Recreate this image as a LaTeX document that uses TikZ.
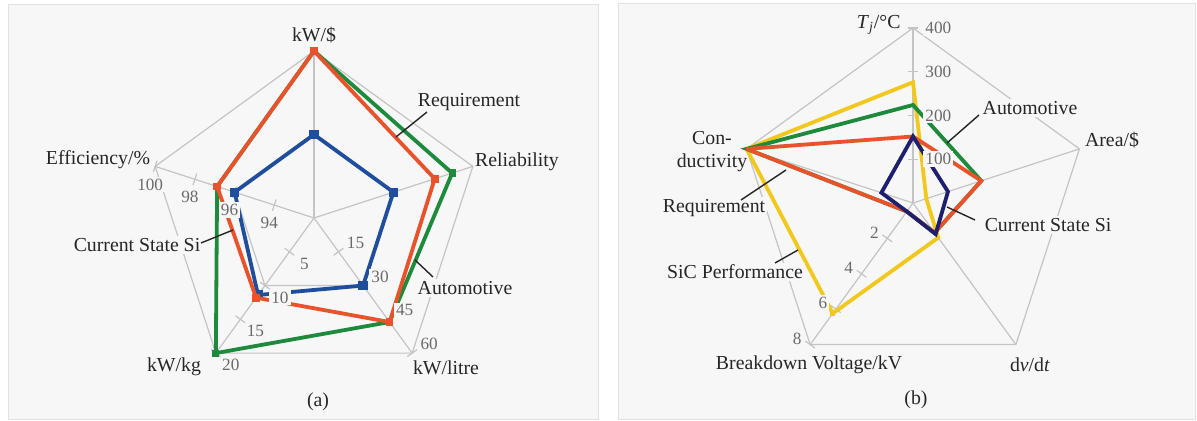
\documentclass[tikz,border=0pt]{standalone}
\usepackage{fontspec}
\setmainfont{Liberation Serif}
\definecolor{panelbg}{HTML}{F7F7F7}
\definecolor{panelbd}{HTML}{E2E2E2}
\definecolor{gridgray}{HTML}{C4C4C4}
\definecolor{txt}{HTML}{262626}
\definecolor{numgray}{HTML}{6A6A6A}
\definecolor{sblue}{HTML}{1F4E9C}
\definecolor{sorange}{HTML}{E8532B}
\definecolor{sgreen}{HTML}{1E8A3C}
\definecolor{snavy}{HTML}{1E206E}
\definecolor{syellow}{HTML}{F2C81F}
\newcommand\radpt[5]{\path (#1) ++(#2:{#3*#4}) coordinate (#5);}
\begin{document}
\begin{tikzpicture}[x=0.5pt,y=-0.5pt,
 grid/.style={draw=gridgray,line width=0.6pt},
 lbl/.style={font=\fontsize{9.9}{11.5}\selectfont,text=txt,inner sep=1pt},
 lblf/.style={lbl,fill=panelbg},
 num/.style={font=\fontsize{8.6}{10}\selectfont,text=numgray,inner sep=1pt,fill=panelbg},
 leader/.style={draw=txt,line width=0.7pt},
 series/.style={line width=1.9pt,line join=miter,miter limit=4},
 mk/.style={rectangle,inner sep=0pt,minimum size=#1},
 panel/.style={fill=panelbg,draw=panelbd,line width=0.5pt}]
\useasboundingbox (0,0) rectangle (1197,421);
\fill[white] (0,0) rectangle (1197,421);
\path[panel] (8,5) rectangle (598,419);
\path[panel] (618,4) rectangle (1195,419);

% ================= LEFT PANEL =================
\coordinate (L) at (314,218);
\def\RL{167}
\foreach \a [count=\n] in {-90,-18,54,126,198}{
  \radpt{L}{\a}{1}{\RL}{L\n}
  \radpt{L}{\a}{0.5}{\RL}{Lh\n}
}
\draw[grid] (L1)--(L2)--(L3)--(L4)--(L5)--cycle;
\draw[grid] (Lh1)--(Lh2)--(Lh3)--(Lh4)--(Lh5)--cycle;
\foreach \n in {1,...,5}{\draw[grid] (L)--(L\n);}
\foreach \a in {54,126,198}{
  \foreach \f in {0.25,0.5,0.75,1}{
    \path (L) ++(\a:{\f*\RL}) coordinate (tk);
    \draw[grid] (tk) ++(\a+90:6) -- ++(\a-90:12);
  }
}
% series points
\foreach \a/\v [count=\n] in {-90/1,-18/0.87,54/0.77,126/1,198/0.61}{\radpt{L}{\a}{\v}{\RL}{G\n}}
\foreach \a/\v [count=\n] in {-90/0.5,-18/0.5,54/0.5,126/0.57,198/0.5}{\radpt{L}{\a}{\v}{\RL}{B\n}}
\foreach \a/\v [count=\n] in {-90/1,-18/0.76,54/0.77,126/0.59,198/0.61}{\radpt{L}{\a}{\v}{\RL}{O\n}}
\draw[series,sgreen] (G1)--(G2)--(G3)--(G4)--(G5)--cycle;
\foreach \n in {1,...,5}{\node[mk=3.6pt,fill=sgreen] (gm\n) at (G\n) {};}
\draw[series,sblue] (B1)--(B2)--(B3)--(B4)--(B5)--cycle;
\foreach \n in {1,...,5}{\node[mk=4.6pt,fill=sblue] (bm\n) at (B\n) {};}
\draw[series,sorange] (O1)--(O2)--(O3)--(O4)--(O5)--cycle;
\foreach \n in {1,...,5}{\node[mk=3.8pt,fill=sorange] (om\n) at (O\n) {};}
% tick labels
\foreach \f/\t [count=\i] in {0.25/94,0.5/96,0.75/98,1/100}{
  \path (L) ++(198:{\f*\RL}) ++(-5,18) node[num] (ne\i) {\t};}
\foreach \f/\t [count=\i] in {0.25/5,0.5/10,0.75/15,1/20}{
  \path (L) ++(126:{\f*\RL}) ++(15,12) node[num] (nk\i) {\t};}
\foreach \f/\t [count=\i] in {0.25/15,0.5/30,0.75/45,1/60}{
  \path (L) ++(54:{\f*\RL}) ++(17,-9) node[num] (nl\i) {\t};}
% labels
\node[lbl] (kwd) at (314,35) {kW/\$};
\node[lbl] (rel) at (517,162) {Reliability};
\node[lbl] (eff) at (98,160) {Efficiency/\%};
\node[lbl] (kwkg) at (174,367) {kW/kg};
\node[lbl] (kwl) at (446,368) {kW/litre};
\node[lbl] (capa) at (318,402) {(a)};
\node[lblf] (reqa) at (469,102) {Requirement};
\node[lblf] (csa) at (137,245) {Current State Si};
\node[lblf] (auta) at (465,288) {Automotive};
\coordinate (lq1) at (427,112); \coordinate (lq2) at (396,137);
\coordinate (lc1) at (201,243); \coordinate (lc2) at (233,230);
\coordinate (la1) at (433,277); \coordinate (la2) at (415,260);
\draw[leader] (lq1) -- (lq2);
\draw[leader] (lc1) -- (lc2);
\draw[leader] (la1) -- (la2);

% ================= RIGHT PANEL =================
\coordinate (R) at (913,203);
\def\RR{175}
\foreach \a [count=\n] in {-90,-18,54,126,198}{\radpt{R}{\a}{1}{\RR}{R\n}}
\draw[grid] (R1)--(R2)--(R3)--(R4)--(R5)--cycle;
\foreach \n in {1,...,5}{\draw[grid] (R)--(R\n);}
\foreach \f in {0.25,0.5,0.75,1}{
  \path (R) ++(-90:{\f*\RR}) coordinate (tk);
  \draw[grid] (tk) ++(-5,0) -- ++(10,0);
  \path (R) ++(126:{\f*\RR}) coordinate (tk);
  \draw[grid] (tk) ++(216:6) -- ++(36:12);
}
\foreach \a/\v [count=\n] in {-90/0.69,-18/0.08,54/0.245,126/0.78,198/1}{\radpt{R}{\a}{\v}{\RR}{Y\n}}
\foreach \a/\v [count=\n] in {-90/0.56,-18/0.41,54/0.21,126/0.06,198/1}{\radpt{R}{\a}{\v}{\RR}{E\n}}
\foreach \a/\v [count=\n] in {-90/0.38,-18/0.41,54/0.21,126/0.06,198/1}{\radpt{R}{\a}{\v}{\RR}{Q\n}}
\foreach \a/\v [count=\n] in {-90/0.38,-18/0.21,54/0.22,126/0.06,198/0.19}{\radpt{R}{\a}{\v}{\RR}{N\n}}
\draw[series,syellow] (Y1)--(Y2)--(Y3)--(Y4)--(Y5)--cycle;
\draw[series,sgreen] (E1)--(E2)--(E3)--(E4)--(E5)--cycle;
\draw[series,sorange] (Q1)--(Q2)--(Q3)--(Q4)--(Q5)--cycle;
\draw[series,snavy] (N1)--(N2)--(N3)--(N4)--(N5)--cycle;
\node[mk=2.5pt,fill=syellow] (ym4) at (Y4) {};
% tick labels
\foreach \f/\t [count=\i] in {0.25/100,0.5/200,0.75/300,1/400}{
  \path (R) ++(-90:{\f*\RR}) ++(10,0) node[num,anchor=west] (nt\i) {\t};}
\foreach \f/\t [count=\i] in {0.25/2,0.5/4,0.75/6,1/8}{
  \path (R) ++(126:{\f*\RR}) ++(-13,-6) node[num] (nv\i) {\t};}
% labels
\node[lbl,anchor=east] (tj) at (903,25) {\textit{T}\textsubscript{\textit{j}}/°C};
\node[lbl] (area) at (1112,140) {Area/\$};
\node[lbl,align=center] (cond) at (712,152) {Con-\\ductivity};
\node[lbl] (bv) at (809,365) {Breakdown Voltage/kV};
\node[lbl] (dvdt) at (1030,365) {d\textit{v}/d\textit{t}};
\node[lbl] (capb) at (916,400) {(b)};
\node[lblf] (autb) at (1030,108) {Automotive};
\node[lblf] (reqb) at (714,208) {Requirement};
\node[lblf] (sicb) at (735,272) {SiC Performance};
\node[lblf] (csb) at (1048,225) {Current State Si};
\coordinate (ra1) at (979,115); \coordinate (ra2) at (947,143);
\coordinate (rq1) at (741,200); \coordinate (rq2) at (786,170);
\coordinate (rs1) at (775,263); \coordinate (rs2) at (798,250);
\coordinate (rc1) at (975,220); \coordinate (rc2) at (947,207);
\draw[leader] (ra1) -- (ra2);
\draw[leader] (rq1) -- (rq2);
\draw[leader] (rs1) -- (rs2);
\draw[leader] (rc1) -- (rc2);
\end{tikzpicture}
\end{document}
